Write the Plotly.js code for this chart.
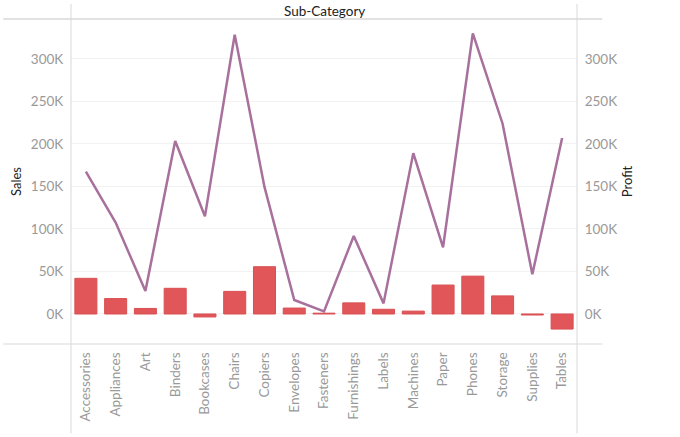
<!DOCTYPE html>
<html>
<head>
<meta charset="utf-8">
<script src="https://cdn.plot.ly/plotly-3.0.1.min.js"></script>
<style>
  html, body { margin: 0; padding: 0; background: #fff; }
  #chart { width: 680px; height: 437px; }
</style>
</head>
<body>
<div id="chart"></div>
<script>
const subCategories = ["Accessories", "Appliances", "Art", "Binders", "Bookcases", "Chairs",
  "Copiers", "Envelopes", "Fasteners", "Furnishings", "Labels", "Machines", "Paper",
  "Phones", "Storage", "Supplies", "Tables"];
const sales = [167380, 107532, 27119, 203413, 114880, 328449, 149528, 16476, 3024,
  91705, 12486, 189239, 78479, 330007, 223844, 46674, 206966];
const profit = [41937, 18138, 6528, 30222, -3473, 26590, 55618, 6964, 950,
  13059, 5546, 3385, 34054, 44516, 21279, -1189, -17725];
const tickValues = [0, 50000, 100000, 150000, 200000, 250000, 300000];
const tickLabels = ["0K", "50K", "100K", "150K", "200K", "250K", "300K"];

const yRange = [-35300, 347000];
const grey = "#999999";
const lineGrey = "#d9d9d9";

function valueAxis(side, title) {
  return {
    side: side,
    range: yRange,
    tickvals: tickValues,
    ticktext: tickLabels,
    tickfont: { family: "Lato, sans-serif", size: 13.5, color: grey },
    ticks: "outside",
    ticklen: 4,
    tickcolor: "rgba(0,0,0,0)",
    showgrid: side === "left",
    gridcolor: "#f2f2f2",
    zeroline: false,
    showline: false,
    fixedrange: true,
    title: { text: title, font: { family: "Lato, sans-serif", size: 13, color: "#222" }, standoff: 6 }
  };
}

const traces = [
  {
    type: "bar",
    x: subCategories,
    y: profit,
    name: "Profit",
    yaxis: "y",
    marker: { color: "#e15759", line: { color: "#d94f52", width: 1 } },
    hoverinfo: "x+y"
  },
  {
    type: "scatter",
    mode: "lines",
    x: subCategories,
    y: sales,
    name: "Sales",
    yaxis: "y2",
    line: { color: "#a8709c", width: 2.5 },
    hoverinfo: "x+y"
  }
];

const layout = {
  width: 680,
  height: 437,
  margin: { l: 71, r: 103, t: 19, b: 93 },
  paper_bgcolor: "#ffffff",
  plot_bgcolor: "#ffffff",
  showlegend: false,
  bargap: 0.26,
  font: { family: "Lato, sans-serif" },
  xaxis: {
    type: "category",
    tickangle: -90,
    tickfont: { family: "Lato, sans-serif", size: 13.5, color: grey },
    ticks: "outside",
    ticklen: 2,
    tickcolor: "rgba(0,0,0,0)",
    showgrid: false,
    showline: false,
    zeroline: false,
    fixedrange: true
  },
  yaxis: valueAxis("right", "Profit"),
  yaxis2: Object.assign(valueAxis("left", "Sales"), { overlaying: "y" }),
  shapes: [
    { type: "line", xref: "paper", yref: "paper", x0: -0.134, x1: 1.05, y0: 1, y1: 1,
      line: { color: lineGrey, width: 1.5 } },
    { type: "line", xref: "paper", yref: "paper", x0: -0.134, x1: 1.05, y0: 0, y1: 0,
      line: { color: lineGrey, width: 1 } },
    { type: "line", xref: "paper", yref: "paper", x0: 0, x1: 0, y0: -0.275, y1: 1.046,
      line: { color: lineGrey, width: 1 } },
    { type: "line", xref: "paper", yref: "paper", x0: 1, x1: 1, y0: -0.275, y1: 1.046,
      line: { color: lineGrey, width: 1 } }
  ],
  annotations: [
    { text: "Sub-Category", xref: "paper", yref: "paper", x: 0.5, y: 1.0, yanchor: "bottom",
      yshift: -2, showarrow: false, font: { family: "Lato, sans-serif", size: 13.5, color: "#222" } }
  ]
};

Plotly.newPlot("chart", traces, layout, { displayModeBar: false, staticPlot: true });
</script>
</body>
</html>
